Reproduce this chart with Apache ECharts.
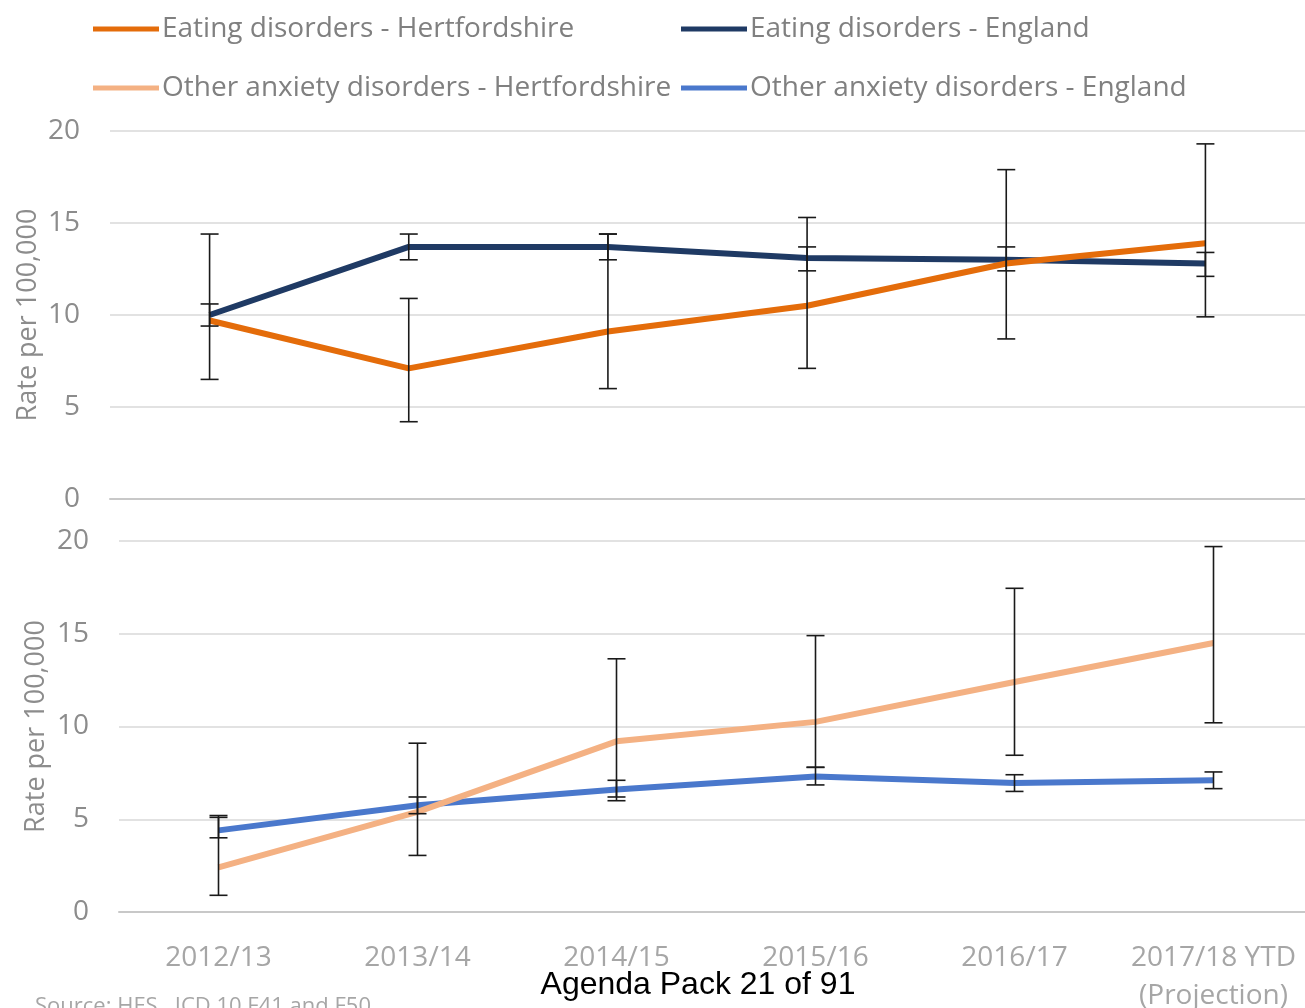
<!DOCTYPE html>
<html>
<head>
<meta charset="utf-8">
<script src="https://cdn.jsdelivr.net/npm/echarts@6/dist/echarts.min.js"></script>
<style>
  html, body { margin: 0; padding: 0; background: #ffffff; }
  #chart { width: 1305px; height: 1008px; }
</style>
</head>
<body>
<div id="chart"></div>
<script>
// Financial years shown on both panels
const years = ['2012/13', '2013/14', '2014/15', '2015/16', '2016/17', '2017/18 YTD\n(Projection)'];
const yTicks = [0, 5, 10, 15, 20];

// Eating disorders, rate per 100,000
const eatingHerts = [9.7, 7.1, 9.1, 10.5, 12.8, 13.9];
const eatingHertsLow = [6.5, 4.2, 6.0, 7.1, 8.7, 9.9];
const eatingHertsHigh = [14.4, 10.9, 14.4, 15.3, 17.9, 19.3];
const eatingEngland = [10.0, 13.7, 13.7, 13.1, 13.0, 12.8];
const eatingEnglandLow = [9.4, 13.0, 13.0, 12.4, 12.4, 12.1];
const eatingEnglandHigh = [10.6, 14.4, 14.4, 13.7, 13.7, 13.4];

// Other anxiety disorders, rate per 100,000
const anxietyHerts = [2.4, 5.4, 9.2, 10.25, 12.4, 14.5];
const anxietyHertsLow = [0.9, 3.05, 6.2, 7.8, 8.45, 10.2];
const anxietyHertsHigh = [5.2, 9.1, 13.65, 14.9, 17.45, 19.7];
const anxietyEngland = [4.4, 5.75, 6.6, 7.3, 6.95, 7.1];
const anxietyEnglandLow = [4.0, 5.3, 6.0, 6.85, 6.5, 6.65];
const anxietyEnglandHigh = [5.1, 6.2, 7.1, 7.8, 7.4, 7.55];

const names = [
  'Eating disorders - Hertfordshire',
  'Eating disorders - England',
  'Other anxiety disorders - Hertfordshire',
  'Other anxiety disorders - England'
];
const colors = ['#E46C0A', '#1F3A64', '#F4B183', '#4A78CC'];

const FONT = 'Open Sans';

function errorBars(low, high, gridIdx) {
  return {
    type: 'custom',
    xAxisIndex: gridIdx,
    yAxisIndex: gridIdx,
    z: 5,
    silent: true,
    data: low.map((l, i) => [i, l, high[i]]),
    renderItem: function (params, api) {
      const i = api.value(0);
      const lo = api.coord([i, api.value(1)]);
      const hi = api.coord([i, api.value(2)]);
      const w = 9;
      const style = { stroke: '#1a1a1a', lineWidth: 1.6 };
      return {
        type: 'group',
        children: [
          { type: 'line', shape: { x1: lo[0], y1: lo[1], x2: hi[0], y2: hi[1] }, style: style },
          { type: 'line', shape: { x1: lo[0] - w, y1: lo[1], x2: lo[0] + w, y2: lo[1] }, style: style },
          { type: 'line', shape: { x1: hi[0] - w, y1: hi[1], x2: hi[0] + w, y2: hi[1] }, style: style }
        ]
      };
    }
  };
}

function lineSeries(idx, data, gridIdx, z) {
  return {
    name: names[idx],
    type: 'line',
    xAxisIndex: gridIdx,
    yAxisIndex: gridIdx,
    data: data,
    symbol: 'none',
    z: z,
    lineStyle: { color: colors[idx], width: 6 },
    itemStyle: { color: colors[idx] }
  };
}

function legendAt(idx, left, top) {
  return {
    data: [names[idx]],
    left: left,
    top: top,
    padding: 0,
    icon: 'rect',
    itemWidth: 66,
    itemHeight: 5,
    selectedMode: false,
    textStyle: { fontFamily: FONT, fontSize: 28, color: '#808080', lineHeight: 34, padding: [0, 0, 0, -2] }
  };
}

function yAxisFor(gridIdx, nameGap) {
  return {
    type: 'value',
    gridIndex: gridIdx,
    min: 0,
    max: 20,
    interval: 5,
    name: 'Rate per 100,000',
    nameLocation: 'middle',
    nameGap: nameGap,
    nameMoveOverlap: false,
    nameTextStyle: { fontFamily: FONT, fontSize: 27, color: '#8c8c8c' },
    axisLine: { show: false },
    axisTick: { show: false },
    axisLabel: { fontFamily: FONT, fontSize: 28, color: '#8c8c8c', margin: 30 },
    splitLine: { lineStyle: { color: '#d9d9d9', width: 1.5 } }
  };
}

const chart = echarts.init(document.getElementById('chart'), null, { renderer: 'canvas' });

chart.setOption({
  backgroundColor: '#ffffff',
  animation: false,
  legend: [
    legendAt(0, 93, 12),
    legendAt(1, 681, 12),
    legendAt(2, 93, 71),
    legendAt(3, 681, 71)
  ],
  grid: [
    { left: 110, top: 131, width: 1195, height: 368, outerBoundsMode: 'none' },
    { left: 119, top: 541, width: 1194, height: 371, outerBoundsMode: 'none' }
  ],
  xAxis: [
    {
      type: 'category', gridIndex: 0, data: years, boundaryGap: true,
      axisLine: { lineStyle: { color: '#c8c8c8', width: 2 } },
      axisTick: { show: false },
      axisLabel: { show: false }
    },
    {
      type: 'category', gridIndex: 1, data: years, boundaryGap: true,
      axisLine: { lineStyle: { color: '#c8c8c8', width: 2 } },
      axisTick: { show: false },
      axisLabel: { fontFamily: FONT, fontSize: 28, color: '#a6a6a6', margin: 27, lineHeight: 38, interval: 0 }
    }
  ],
  yAxis: [yAxisFor(0, 68), yAxisFor(1, 69)],
  series: [
    lineSeries(1, eatingEngland, 0, 2),
    lineSeries(0, eatingHerts, 0, 3),
    lineSeries(3, anxietyEngland, 1, 2),
    lineSeries(2, anxietyHerts, 1, 3),
    errorBars(eatingHertsLow, eatingHertsHigh, 0),
    errorBars(eatingEnglandLow, eatingEnglandHigh, 0),
    errorBars(anxietyHertsLow, anxietyHertsHigh, 1),
    errorBars(anxietyEnglandLow, anxietyEnglandHigh, 1)
  ],
  graphic: [
    {
      type: 'text', left: 35, top: 996,
      style: { text: 'Source: HES , ICD 10 F41 and F50', fontFamily: FONT, fontSize: 22, fill: '#a6a6a6' }
    },
    {
      type: 'text', x: 698, y: 985,
      style: { text: 'Agenda Pack 21 of 91', fontFamily: 'Liberation Sans', fontSize: 32, fill: '#000000', align: 'center', verticalAlign: 'middle' }
    }
  ]
});
</script>
</body>
</html>
